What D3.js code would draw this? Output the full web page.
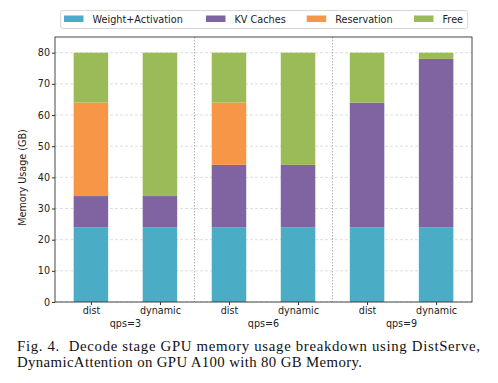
<!DOCTYPE html>
<html><head><meta charset="utf-8">
<script src="https://cdn.jsdelivr.net/npm/d3@7"></script>
<style>body{margin:0;background:#fff}</style>
</head><body>
<svg id="c" width="498" height="383"></svg>
<script>
const groups = ["qps=3", "qps=6", "qps=9"];
const methods = ["dist", "dynamic"];
const seriesNames = ["Weight+Activation", "KV Caches", "Reservation", "Free"];
const weightAct = [24, 24, 24, 24, 24, 24];
const kvCaches = [10, 10, 20, 20, 40, 54];
const reservation = [30, 0, 20, 0, 0, 0];
const free = [16, 46, 16, 36, 16, 2];
const yTicks = [0, 10, 20, 30, 40, 50, 60, 70, 80];
const colors = ["#4bacc6", "#8064a2", "#f79646", "#9bbb59"];

const svg = d3.select("#c");
const L = 55, R = 472, T = 37, B = 302;
const bars = [];
groups.forEach((g, gi) => methods.forEach((m, mi) => bars.push({g, m, i: gi * 2 + mi})));
const data = bars.map((b, i) => ({i, "Weight+Activation": weightAct[i], "KV Caches": kvCaches[i], "Reservation": reservation[i], "Free": free[i]}));
const x = d3.scaleLinear().domain([-0.52, 5.52]).range([L, R]);
const y = d3.scaleLinear().domain([0, 80]).range([B, 52.7]);
const bw = x(0.25) - x(-0.25);

// grid
svg.append("g").selectAll("line").data(yTicks).join("line")
  .attr("x1", L).attr("x2", R).attr("y1", d => y(d)).attr("y2", d => y(d))
  .attr("stroke", "#d0d0d0").attr("stroke-width", 0.7).attr("stroke-dasharray", "3,2");

const stack = d3.stack().keys(seriesNames)(data);
svg.append("g").selectAll("g").data(stack).join("g")
  .attr("fill", (d, k) => colors[k])
  .selectAll("rect").data(d => d).join("rect")
  .attr("x", d => x(d.data.i) - bw / 2).attr("width", bw)
  .attr("y", d => y(d[1])).attr("height", d => y(d[0]) - y(d[1]));

// separators
svg.append("g").selectAll("line").data([1.5, 3.5]).join("line")
  .attr("x1", d => x(d)).attr("x2", d => x(d)).attr("y1", T).attr("y2", B)
  .attr("stroke", "#999").attr("stroke-width", 0.8).attr("stroke-dasharray", "1.5,1.5");

// frame
svg.append("rect").attr("x", L).attr("y", T).attr("width", R - L).attr("height", B - T)
  .attr("fill", "none").attr("stroke", "#333").attr("stroke-width", 0.9);

const font = "DejaVu Sans";
const fs = 9.6;
const yAxis = svg.append("g").attr("transform", `translate(${L},0)`)
  .call(d3.axisLeft(y).tickValues(yTicks).tickSize(3).tickPadding(2));
yAxis.select(".domain").remove();
yAxis.selectAll("text").attr("font-family", font).attr("font-size", fs).attr("fill", "#222");
yAxis.selectAll("line").attr("stroke", "#333");

const xAxis = svg.append("g").attr("transform", `translate(0,${B})`)
  .call(d3.axisBottom(x).tickValues(bars.map(b => b.i)).tickFormat(i => bars[i].m).tickSize(3).tickPadding(2));
xAxis.select(".domain").remove();
xAxis.selectAll("text").attr("font-family", font).attr("font-size", fs).attr("fill", "#222");
xAxis.selectAll("line").attr("stroke", "#333");

svg.append("g").selectAll("text").data(groups).join("text")
  .attr("x", (d, gi) => x(gi * 2 + 0.5)).attr("y", 327)
  .attr("text-anchor", "middle").attr("font-family", font).attr("font-size", fs).attr("fill", "#222")
  .text(d => d);

svg.append("text").attr("transform", `translate(26,${(T + B) / 2 + 8}) rotate(-90)`)
  .attr("text-anchor", "middle").attr("font-family", font).attr("font-size", fs).attr("fill", "#222")
  .text("Memory Usage (GB)");

// legend
const lg = svg.append("g");
lg.append("rect").attr("x", 60.7).attr("y", 10.5).attr("width", 407).attr("height", 18)
  .attr("fill", "#fff").attr("stroke", "#ccc").attr("stroke-width", 0.8).attr("rx", 2);
const lx = [64, 206, 306.7, 414];
seriesNames.forEach((s, k) => {
  lg.append("rect").attr("x", lx[k]).attr("y", 15.5).attr("width", 19.5).attr("height", 6.5).attr("fill", colors[k]);
  lg.append("text").attr("x", lx[k] + 28.5).attr("y", 22.5).attr("font-family", font).attr("font-size", 9.7).attr("fill", "#222").text(s);
});

// caption
svg.append("text").attr("x", 17).attr("y", 350.5).attr("font-family", "Liberation Serif").attr("font-size", 14.8)
  .attr("fill", "#111").attr("textLength", 463).attr("lengthAdjust", "spacing")
  .text("Fig. 4.\u00a0\u00a0Decode stage GPU memory usage breakdown using DistServe,");
svg.append("text").attr("x", 17).attr("y", 367).attr("font-family", "Liberation Serif").attr("font-size", 14.8)
  .attr("fill", "#111").attr("textLength", 345).attr("lengthAdjust", "spacing")
  .text("DynamicAttention on GPU A100 with 80 GB Memory.");
</script>
</body></html>
